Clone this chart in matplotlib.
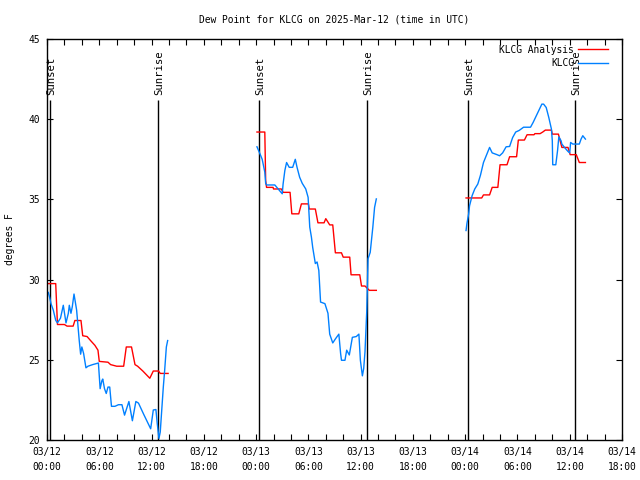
import matplotlib
matplotlib.use("Agg")
import matplotlib.pyplot as plt
import numpy as np

plt.rcParams['font.family'] = ['DejaVu Sans Mono']
fs = 6.9

# hours since 03/12 00:00 UTC, dew point in F
ana_hours = [0.15, 1.0, 1.2, 2.0, 2.3, 3.0, 3.2, 3.9, 4.1, 4.6, 5.0, 5.5, 5.85, 6.0, 7.0, 7.3,
             8.0, 8.8, 9.1, 9.7, 10.1, 10.4, 11.0, 11.8, 12.2, 12.8, 13.0, 13.9,
             None,
             24.1, 25.0, 25.1, 25.2, 25.95, 26.0, 26.9, 27.1, 27.9, 28.1, 28.9, 29.2, 30.0, 30.1,
             30.8, 31.1, 31.8, 32.0, 32.45, 32.8, 33.1, 33.8, 34.0, 34.75, 34.9, 35.9, 36.1, 36.5,
             37.0, 37.8,
             None,
             48.1, 49.9, 50.1, 50.8, 51.1, 51.75, 52.0, 52.8, 53.1, 53.9, 54.1, 54.8, 55.1, 55.9,
             56.0, 56.6, 56.9, 57.2, 57.9, 58.0, 58.7, 59.1, 59.8, 60.05, 60.75, 61.1, 61.8]
ana_vals = [29.75, 29.75, 27.2, 27.2, 27.1, 27.1, 27.45, 27.45, 26.5, 26.45, 26.2, 25.9, 25.6,
            24.9, 24.85, 24.7, 24.6, 24.6, 25.8, 25.8, 24.7, 24.6, 24.3, 23.85, 24.3, 24.3, 24.15,
            24.15,
            None,
            39.2, 39.2, 36.17, 35.75, 35.75, 35.65, 35.65, 35.44, 35.44, 34.1, 34.1, 34.72, 34.72,
            34.4, 34.4, 33.54, 33.54, 33.8, 33.41, 33.41, 31.67, 31.67, 31.4, 31.4, 30.3, 30.3,
            29.6, 29.6, 29.33, 29.33,
            None,
            35.09, 35.09, 35.28, 35.28, 35.75, 35.75, 37.16, 37.16, 37.66, 37.66, 38.7, 38.7,
            39.03, 39.03, 39.1, 39.1, 39.2, 39.32, 39.32, 39.07, 39.07, 38.24, 38.24, 37.79,
            37.79, 37.3, 37.3]

obs_hours = [0.15, 0.3, 0.46, 0.72, 1.0, 1.2, 1.55, 1.87, 2.18, 2.45, 2.56, 2.75, 2.9, 3.1,
             3.4, 3.7, 3.86, 4.0, 4.2, 4.47, 4.7, 5.24, 5.9, 6.1, 6.3, 6.4, 6.6, 6.8, 7.0, 7.2,
             7.4, 7.8, 8.2, 8.6, 8.9, 9.4, 9.8, 10.2, 10.5, 11.1, 11.9, 12.2, 12.5, 12.65, 12.85,
             13.0, 13.35, 13.5, 13.7, 13.85,
             None,
             24.1, 24.4, 24.7, 25.0, 25.1, 25.2, 26.15, 26.7, 27.0, 27.1, 27.3, 27.5, 27.8, 28.2,
             28.5, 28.7, 29.0, 29.3, 29.7, 29.97, 30.16, 30.35, 30.5, 30.8, 31.0, 31.2, 31.4,
             31.9, 32.25, 32.45, 32.8, 33.1, 33.5, 33.7, 33.8, 34.2, 34.4, 34.7, 35.05, 35.5,
             35.8, 35.97, 36.2, 36.35, 36.5, 36.7, 36.85, 37.1, 37.4, 37.6, 37.8,
             None,
             48.1, 48.2, 48.4, 48.5, 48.8, 49.1, 49.45, 49.75, 50.1, 50.4, 50.8, 51.1, 51.6,
             51.95, 52.3, 52.7, 53.1, 53.45, 53.8, 54.2, 54.7, 55.5, 55.8, 56.15, 56.5, 56.8,
             57.0, 57.3, 57.6, 57.9, 58.0, 58.05, 58.4, 58.6, 58.75, 59.0, 59.1, 59.4, 59.8,
             60.0, 60.1, 60.35, 61.1, 61.3, 61.5, 61.8]
obs_vals = [29.2, 28.9, 28.5, 28.1, 27.46, 27.3, 27.6, 28.4, 27.3, 27.9, 28.4, 27.9, 28.3, 29.1,
            28.1, 26.2, 25.35, 25.8, 25.4, 24.5, 24.6, 24.7, 24.8, 23.2, 23.7, 23.8, 23.2, 22.9,
            23.3, 23.3, 22.1, 22.1, 22.2, 22.2, 21.55, 22.4, 21.2, 22.4, 22.3, 21.6, 20.7, 21.87,
            21.9, 21.05, 20.1, 20.5, 23.3, 24.3, 25.8, 26.2,
            None,
            38.28, 37.9, 37.5, 36.7, 36.0, 35.9, 35.9, 35.55, 35.35, 35.96, 36.8, 37.3, 37.0,
            37.0, 37.5, 37.0, 36.38, 36.0, 35.65, 35.13, 33.27, 32.65, 32.0, 31.0, 31.1, 30.57,
            28.6, 28.5, 27.9, 26.6, 26.05, 26.3, 26.6, 25.4, 24.97, 24.97, 25.6, 25.3, 26.4,
            26.45, 26.6, 24.97, 24.0, 24.45, 25.5, 28.0, 31.3, 31.7, 33.27, 34.5, 35.03,
            None,
            33.06, 33.5, 34.1, 34.6, 35.24, 35.65, 35.96, 36.5, 37.3, 37.7, 38.24, 37.9, 37.8,
            37.72, 37.9, 38.28, 38.3, 38.86, 39.2, 39.3, 39.5, 39.5, 39.8, 40.2, 40.6, 40.94,
            40.94, 40.73, 40.1, 39.38, 38.66, 37.16, 37.16, 38.03, 38.9, 38.66, 38.45, 38.24,
            37.99, 37.9, 38.55, 38.45, 38.45, 38.76, 38.97, 38.76]

sun_hours = [0.3, 12.7, 24.35, 36.7, 48.3, 60.55]
sun_labels = ['Sunset', 'Sunrise', 'Sunset', 'Sunrise', 'Sunset', 'Sunrise']

tick_hours = list(range(0, 67, 6))
tick_labels = ['03/12\n00:00', '03/12\n06:00', '03/12\n12:00', '03/12\n18:00',
               '03/13\n00:00', '03/13\n06:00', '03/13\n12:00', '03/13\n18:00',
               '03/14\n00:00', '03/14\n06:00', '03/14\n12:00', '03/14\n18:00']


def to_arr(a):
    return np.array([np.nan if v is None else v for v in a], dtype=float)


fig = plt.figure(figsize=(6.4, 4.8), dpi=100)
ax = fig.add_axes([47/640, 40/480, 575/640, 401/480])

for h, lab in zip(sun_hours, sun_labels):
    ax.vlines(h, 20, 41.2, color='black', lw=1.0)
    ax.text(h + 0.15, 41.5, lab, rotation=90, ha='center', va='bottom', fontsize=fs + 0.8)

ax.plot(to_arr(ana_hours), to_arr(ana_vals), color='#ff0000', lw=1.0, label='KLCG Analysis')
ax.plot(to_arr(obs_hours), to_arr(obs_vals), color='#0080ff', lw=1.0, label='KLCG')

ax.set_xlim(0, 66)
ax.set_ylim(20, 45)
ax.set_xticks(tick_hours)
ax.set_xticklabels(tick_labels, fontsize=fs, linespacing=1.6)
ax.set_xticks(range(0, 67, 2), minor=True)
ax.set_yticks([20, 25, 30, 35, 40, 45])
ax.set_yticklabels(['20', '25', '30', '35', '40', '45'], fontsize=fs)
ax.tick_params(which='both', direction='in', top=True, right=True, length=4, width=0.8)
ax.tick_params(axis='x', which='major', pad=5)
ax.tick_params(axis='y', pad=5)
for s in ax.spines.values():
    s.set_linewidth(1.0)

ax.set_ylabel('degrees F', fontsize=fs, labelpad=10)
ax.set_title('Dew Point for KLCG on 2025-Mar-12 (time in UTC)', fontsize=fs, pad=12)

ax.legend(loc='upper right', frameon=False, markerfirst=False, fontsize=fs,
          handlelength=3.2, handletextpad=0.4, labelspacing=0.35,
          bbox_to_anchor=(0.983, 0.995), borderaxespad=0.0)

fig.savefig('out.png', dpi=100)
